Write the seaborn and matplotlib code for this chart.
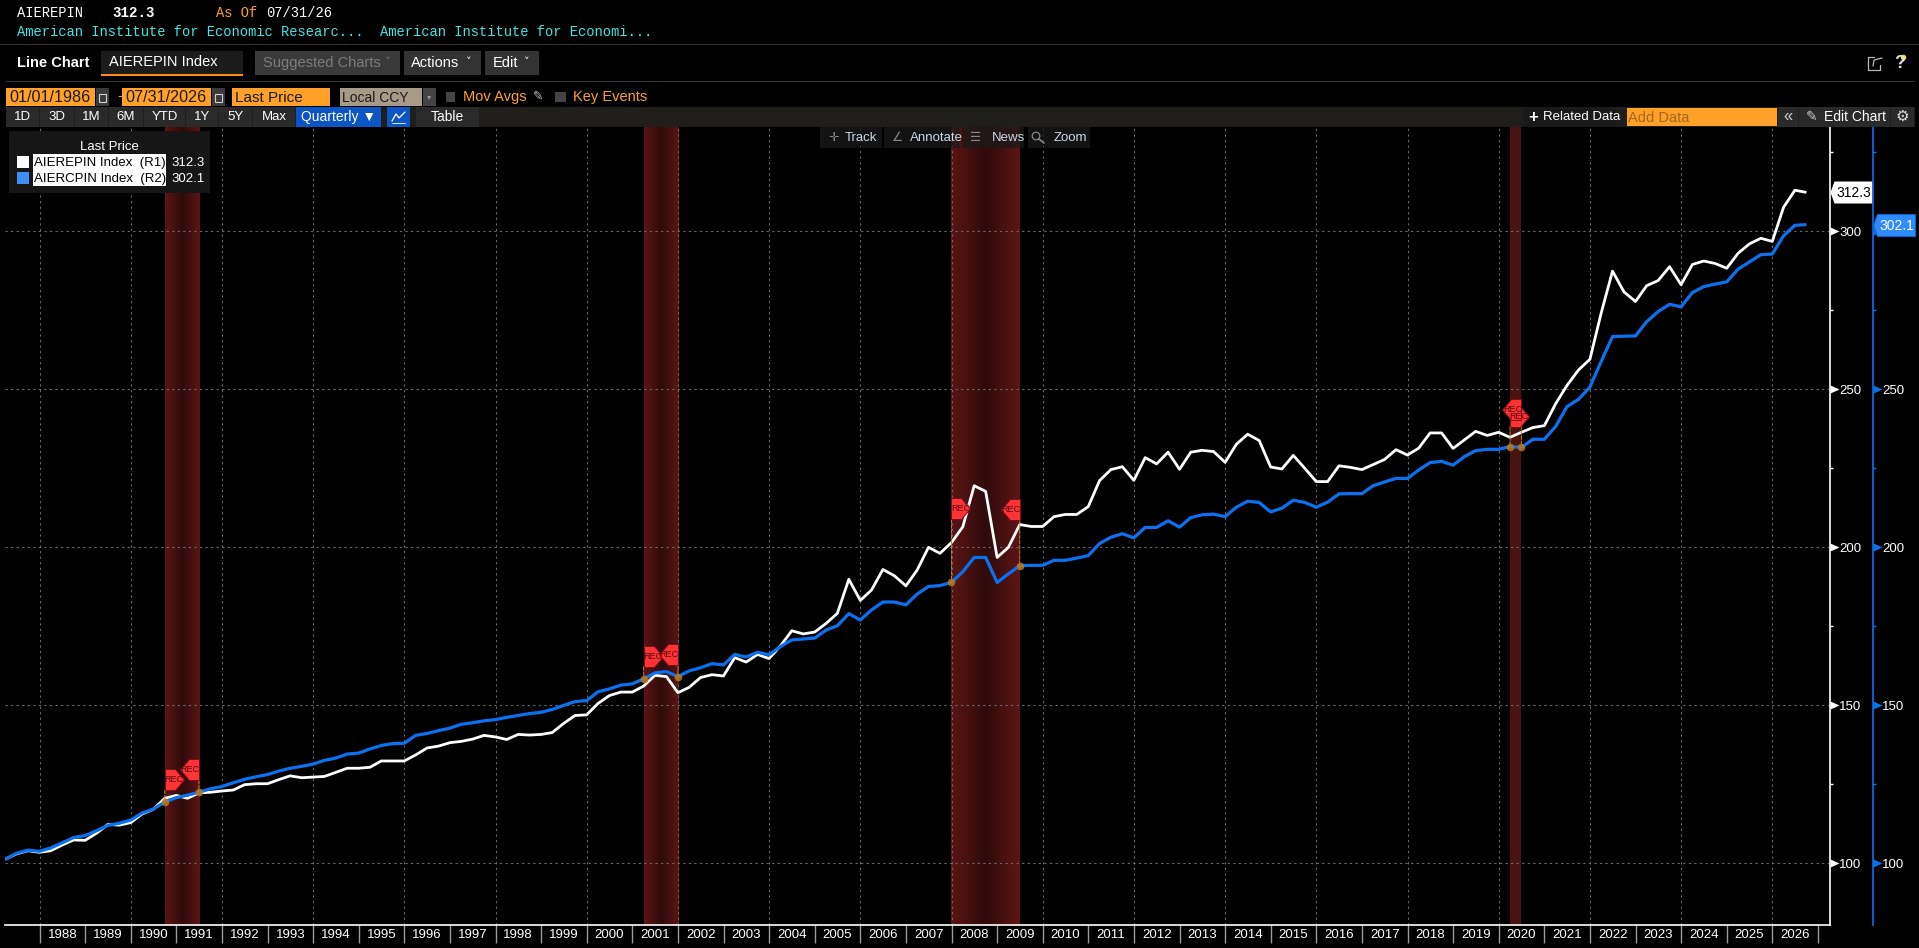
import numpy as np
import pandas as pd
import matplotlib
matplotlib.use('Agg')
import matplotlib.pyplot as plt
import matplotlib.dates as mdates
import seaborn as sns
from matplotlib.colors import LinearSegmentedColormap
from matplotlib.patches import Rectangle, Circle
from matplotlib.path import Path
from matplotlib.ticker import MultipleLocator
from matplotlib.transforms import ScaledTranslation

# quarterly readings, Mar 1987 to Sep 2026
aierepin = [
    101.3, 103.0, 104.0, 103.5, 104.0, 105.8, 107.4, 107.3, 109.5, 112.3,
    112.1, 112.9, 115.6, 117.1, 120.6, 121.5, 120.6, 122.3, 122.5, 122.9,
    123.2, 124.9, 125.2, 125.2, 126.5, 127.7, 127.1, 127.3, 127.5, 128.8,
    130.1, 130.1, 130.4, 132.4, 132.4, 132.4, 134.3, 136.5, 137.1, 138.2,
    138.6, 139.3, 140.5, 140.0, 139.2, 140.8, 140.6, 140.8, 141.4, 144.3,
    146.8, 147.0, 150.6, 153.1, 154.2, 154.2, 156.1, 159.5, 159.1, 154.0,
    155.7, 158.8, 159.7, 159.3, 165.1, 163.7, 166.1, 164.8, 168.8, 173.6,
    172.6, 173.2, 175.9, 179.1, 189.9, 183.2, 186.5, 193.0, 191.0, 187.8,
    192.8, 200.0, 198.1, 201.5, 206.5, 219.5, 217.7, 196.8, 200.0, 207.2,
    206.6, 206.6, 209.7, 210.4, 210.4, 212.9, 221.1, 224.6, 225.5, 221.2,
    228.4, 226.4, 230.1, 224.7, 230.1, 230.7, 230.3, 226.9, 232.6, 235.8,
    233.8, 225.4, 224.8, 229.1, 225.0, 220.8, 220.8, 225.8, 225.3, 224.6,
    226.2, 227.8, 230.9, 229.2, 231.4, 236.2, 236.2, 231.3, 234.0, 236.7,
    235.4, 236.4, 234.8, 236.4, 237.9, 238.5, 245.4, 251.2, 256.1, 259.5,
    274.1, 287.4, 280.8, 277.8, 282.8, 284.4, 288.8, 283.1, 289.5, 290.6,
    289.8, 288.3, 293.0, 296.0, 297.8, 296.8, 307.6, 313.0, 312.3,
]
aiercpin = [
    101.3, 103.2, 104.2, 103.8, 104.9, 106.5, 108.2, 108.8, 110.3, 112.0,
    112.7, 113.7, 115.9, 117.2, 119.4, 120.8, 121.6, 122.5, 123.6, 124.3,
    125.5, 126.6, 127.4, 128.1, 129.2, 130.1, 130.7, 131.4, 132.6, 133.3,
    134.6, 134.9, 136.2, 137.3, 137.9, 138.0, 140.5, 141.1, 142.0, 142.8,
    144.0, 144.5, 145.1, 145.5, 146.2, 146.8, 147.4, 147.8, 148.7, 150.0,
    151.2, 151.5, 154.3, 155.2, 156.4, 156.8, 158.4, 160.3, 160.7, 159.1,
    160.9, 161.9, 163.2, 162.8, 166.1, 165.3, 166.8, 166.0, 168.6, 170.7,
    171.0, 171.3, 173.8, 175.2, 179.0, 177.0, 180.2, 182.7, 182.7, 181.8,
    185.2, 187.6, 187.9, 188.9, 192.3, 196.8, 196.8, 188.9, 191.6, 194.2,
    194.3, 194.3, 195.9, 195.9, 196.6, 197.4, 201.2, 203.2, 204.3, 203.0,
    206.3, 206.3, 208.4, 206.4, 209.4, 210.3, 210.5, 209.7, 212.7, 214.6,
    214.2, 211.2, 212.4, 214.9, 214.2, 212.7, 214.3, 216.9, 217.0, 217.0,
    219.5, 220.7, 221.8, 221.8, 224.5, 226.8, 227.2, 226.0, 228.7, 230.6,
    231.0, 231.0, 231.9, 231.6, 234.2, 234.2, 238.2, 244.5, 246.8, 250.7,
    258.8, 266.7, 266.8, 266.9, 271.4, 274.6, 276.9, 276.1, 280.6, 282.5,
    283.3, 284.0, 288.0, 290.3, 292.6, 292.8, 298.6, 301.9, 302.1,
]
quarters = pd.date_range('1987-03-31', periods=len(aierepin), freq='QE')
recessions = [
    ('1990-09-30', '1991-06-30'),
    ('2001-03-31', '2001-12-31'),
    ('2007-12-31', '2009-06-30'),
    ('2020-03-31', '2020-06-30'),
]
year_labels = list(range(1988, 2027))
y_major = [100, 150, 200, 250, 300]

BLUE = '#0a72f0'
ORANGE = '#ffa028'
CYAN = '#3fe6e6'
W, H = 1919, 948
mono = ['Liberation Mono', 'DejaVu Sans Mono']
ui = ['Liberation Sans', 'DejaVu Sans']


def num(d):
    return mdates.date2num(pd.Timestamp(d))


sns.set_theme(style='dark', rc={'axes.facecolor': 'black', 'figure.facecolor': 'black'})
plt.rcParams['font.family'] = ui

fig = plt.figure(figsize=(W / 100, H / 100), dpi=100)
ax = fig.add_axes([5 / W, (H - 925) / H, (1829.5 - 5) / W, (925 - 127) / H])
ax2 = ax.twinx()

sns.lineplot(x=quarters, y=aierepin, ax=ax, color='white', linewidth=2.0, legend=False,
             solid_capstyle='butt')
sns.lineplot(x=quarters, y=aiercpin, ax=ax2, color=BLUE, linewidth=2.3, legend=False,
             solid_capstyle='butt')

xmin, xmax = num('1987-03-30'), num('2027-04-03')
ymin, ymax = 80.5, 333

# recession bars
bar_cmap = LinearSegmentedColormap.from_list('rec', ['#5c1515', '#2f0b0b', '#5c1515'])
for i, (start, end) in enumerate(recessions):
    if i == 3:
        ax.axvspan(num(start), num(end), color='#4a1212', lw=0, zorder=0)
    else:
        ax.imshow(np.linspace(0, 1, 64).reshape(1, -1), cmap=bar_cmap,
                  extent=[num(start), num(end), ymin, ymax],
                  aspect='auto', zorder=0, interpolation='bilinear')

for a in (ax, ax2):
    a.set_xlim(xmin, xmax)
    a.set_ylim(ymin, ymax)
    a.set_xlabel('')
    a.set_ylabel('')
ax2.grid(False)
ax2.patch.set_visible(False)

# axes
ax.xaxis.set_major_locator(mdates.YearLocator(2))
ax.xaxis.set_minor_locator(mdates.YearLocator(1))
ax.xaxis.set_major_formatter(plt.NullFormatter())
ax.tick_params(axis='x', which='both', length=13, width=1, color='#9a9a9a', bottom=True, top=False)
ax.grid(True, axis='x', which='major', color='#6a6a6a', linestyle=(0, (2, 3)), linewidth=0.8)
ax.grid(True, axis='y', which='major', color='#6a6a6a', linestyle=(0, (2, 3)), linewidth=0.8)

arrow = Path([(0, -4), (9, 0), (0, 4), (0, -4)])
r2_shift = ScaledTranslation(43 / 100, 0, fig.dpi_scale_trans)
for a, col, off, trans in ((ax, 'white', 0, ax.get_yaxis_transform()),
                           (ax2, BLUE, 31, ax2.get_yaxis_transform() + r2_shift)):
    a.yaxis.set_major_locator(MultipleLocator(50))
    a.yaxis.set_minor_locator(MultipleLocator(25))
    a.yaxis.tick_right()
    a.tick_params(axis='y', which='major', right=False, left=False, length=0, pad=7, labelsize=9.5,
                  labelcolor='white')
    a.tick_params(axis='y', which='minor', right=True, left=False, length=2.5, width=1, color=col)
    a.plot([1] * len(y_major), y_major, transform=trans, marker=arrow, markersize=13,
           markerfacecolor=col, markeredgewidth=0, linestyle='none', clip_on=False, zorder=5)
    for side in ('left', 'top', 'bottom'):
        a.spines[side].set_visible(False)
    a.spines['right'].set_visible(True)
    a.spines['right'].set_color(col)
    a.spines['right'].set_linewidth(1.2)
    a.spines['right'].set_position(('outward', off))
ax.spines['bottom'].set_visible(True)
ax.spines['bottom'].set_color('white')
ax.spines['bottom'].set_linewidth(1.2)

# year labels sit in the middle of each year
for y in year_labels:
    ax.annotate(str(y), xy=(num(f'{y}-07-01'), 0), xycoords=ax.get_xaxis_transform(),
                xytext=(0, -10), textcoords='offset pixels', ha='center', va='center',
                fontsize=9.5, color='white', annotation_clip=False)

# REC flags: height of each flag above its point in px
flag_r = Path([(0, 0), (10, 0), (19, 10.5), (10, 21), (0, 21), (0, 0)])
flag_l = Path([(0, 0), (-10, 0), (-19, 10.5), (-10, 21), (0, 21), (0, 0)])
flag_lift = [(12, 12), (12, 12), (63, 46), (20, 27)]


def rec_flag(date, value, lift, pointing):
    ax2.annotate('', xy=(date, value), xytext=(0, lift), textcoords='offset pixels',
                 arrowprops=dict(arrowstyle='-', color='#c8801c', lw=0.7, ls='--', shrinkA=0, shrinkB=0),
                 zorder=6)
    base = flag_r if pointing == 'r' else flag_l
    verts = base.vertices + np.array([0, lift])
    m = np.abs(verts).max()
    ax2.plot([date], [value], marker=Path(verts), markersize=2 * m * 0.72,
             markerfacecolor='#ff3236', markeredgecolor='#7a1016', markeredgewidth=0.7,
             linestyle='none', clip_on=False, zorder=7)
    shift = 9 if pointing == 'r' else -9
    ax2.annotate('REC', xy=(date, value), xytext=(shift, lift + 10.5), textcoords='offset pixels',
                 ha='center', va='center', fontsize=6.6, color='#5a0a0e', zorder=8)


for (start, end), (lift_a, lift_b) in zip(recessions, flag_lift):
    v0 = aiercpin[list(quarters).index(pd.Timestamp(start))]
    v1 = aiercpin[list(quarters).index(pd.Timestamp(end))]
    rec_flag(num(start), v0, lift_a, 'r')
    rec_flag(num(end), v1, lift_b, 'l')
    ax2.plot([num(start), num(end)], [v0, v1], marker='o', markersize=5.5, linestyle='none',
             color='#b87a20', alpha=0.85, markeredgewidth=0, zorder=6)

# last value tags
tag = Path([(0, 0), (4, 11), (42, 11), (42, -11), (4, -11), (0, 0)])
ax.plot([1], [aierepin[-1]], transform=ax.get_yaxis_transform(), marker=tag, markersize=60.5,
        markerfacecolor='white', markeredgewidth=0, clip_on=False, zorder=9, linestyle='none')
ax.annotate(f'{aierepin[-1]}', xy=(1, aierepin[-1]), xycoords=ax.get_yaxis_transform(),
            xytext=(24, -1), textcoords='offset pixels', ha='center', va='center',
            fontsize=10, color='black', zorder=10, annotation_clip=False)
ax2.plot([1], [aiercpin[-1]], transform=ax2.get_yaxis_transform() + r2_shift,
         marker=tag, markersize=60.5, markerfacecolor='#2f8bff', markeredgecolor='#1060d0',
         markeredgewidth=0.8, clip_on=False, zorder=9, linestyle='none')
ax2.annotate(f'{aiercpin[-1]}', xy=(1, aiercpin[-1]), xycoords=ax2.get_yaxis_transform(),
             xytext=(67, -1), textcoords='offset pixels', ha='center', va='center',
             fontsize=10, color='white', zorder=10, annotation_clip=False)

# terminal chrome, drawn in pixel coordinates over the chart
ui_ax = fig.add_axes([0, 0, 1, 1], zorder=20)
ui_ax.set_xlim(0, W)
ui_ax.set_ylim(H, 0)
ui_ax.axis('off')
ui_ax.patch.set_visible(False)


def box(x0, y0, x1, y1, color, **kw):
    ui_ax.add_patch(Rectangle((x0, y0), x1 - x0, y1 - y0, facecolor=color, edgecolor='none', **kw))


def label(x, y, s, color='white', size=9.5, ha='left', family=ui, **kw):
    ui_ax.text(x, y, s, color=color, fontsize=size, ha=ha, va='center', family=family, **kw)


# header
label(17, 13, 'AIEREPIN', size=9.9, family=mono)
label(112, 13, f'{aierepin[-1]}', size=10.2, family=mono, fontweight='bold')
label(216, 13, 'As Of', ORANGE, size=9.9, family=mono)
label(266, 13, '07/31/26', size=9.9, family=mono)
label(17, 32, 'American Institute for Economic Researc...', CYAN, size=9.9, family=mono)
label(380, 32, 'American Institute for Economi...', CYAN, size=9.9, family=mono)
box(0, 44, W, 45, '#333333')
box(6, 81, 1915, 82, '#333333')

label(17, 63, 'Line Chart', size=10.5, fontweight='bold')
box(101, 51, 243, 75, '#1c1c1c')
box(101, 74, 243, 75.5, '#ff8c1a')
label(109, 62, 'AIEREPIN Index', size=10.5)
box(255, 51, 400, 75, '#3a3a3a')
label(263, 63, 'Suggested Charts', '#7c7c7c', size=10.5)
label(385, 62, '˅', '#7c7c7c', size=8, family=['DejaVu Sans'])
box(404, 51, 481, 75, '#333333')
label(411, 63, 'Actions', size=10.5)
label(466, 62, '˅', size=8, family=['DejaVu Sans'])
box(485, 51, 539, 75, '#333333')
label(493, 63, 'Edit', size=10.5)
label(524, 62, '˅', size=8, family=['DejaVu Sans'])
# share icon
ui_ax.plot([1874, 1868, 1868, 1880, 1880], [57, 57, 70, 70, 65], color='#bbbbbb', lw=0.9)
ui_ax.plot([1873, 1874, 1882], [66, 60, 58], color='#bbbbbb', lw=0.9)
label(1894, 63, '?', '#dddddd', size=13, fontweight='bold')
ui_ax.plot([1903], [57], 'o', color='#ffd820', markersize=3)

# date row
box(6, 88, 95, 106, ORANGE)
label(9, 97.5, '01/01/1986', '#1a1a1a', size=11.6)
box(96, 88, 109, 106, '#3a3a3a')
label(117, 96, '-', ORANGE, size=10.5)
box(122, 88, 211, 106, ORANGE)
label(125, 97.5, '07/31/2026', '#1a1a1a', size=11.6)
box(212, 88, 225, 106, '#3a3a3a')
for cx in (102.5, 218.5):
    ui_ax.add_patch(Rectangle((cx - 3.5, 93.5), 7, 8, facecolor='none', edgecolor='#cfcfcf', lw=0.8))
box(232, 88, 330, 106, ORANGE)
label(235, 97.5, 'Last Price', '#1a1a1a', size=11)
box(340, 88, 422, 106, '#a89a88')
label(342, 97.5, 'Local CCY', '#1a1a1a', size=10)
box(423, 88, 436, 106, '#444444')
label(429.5, 97, '▾', '#999999', size=6, ha='center', family=['DejaVu Sans'])
box(446, 92, 455, 102, '#444444')
label(463, 97, 'Mov Avgs', ORANGE, size=10.5)
label(533, 96, '✎', '#bbbbbb', size=9, family=['DejaVu Sans'])
box(555, 92, 566, 102, '#444444')
label(573, 97, 'Key Events', ORANGE, size=10.5)

# range buttons
box(6, 107, W - 4, 127, '#1f1e1a')
buttons = [(6, 39, '1D'), (40, 74, '3D'), (75, 108, '1M'), (109, 143, '6M'), (144, 185, 'YTD'),
           (186, 218, '1Y'), (219, 252, '5Y'), (253, 295, 'Max')]
for x0, x1, s in buttons:
    box(x0, 107, x1, 127, '#2a2a2a')
    label((x0 + x1) / 2, 117, s, size=9.5, ha='center')
box(296, 107, 381, 127, '#0b55c4')
label(301, 117, 'Quarterly ▼', size=10)
box(387, 107, 410, 127, '#0b55c4')
ui_ax.plot([392, 396, 399, 405], [121, 114, 118, 112], color='white', lw=0.9)
ui_ax.plot([392, 405], [123, 123], color='white', lw=0.6)
box(416, 107, 479, 127, '#2a2a2a')
label(447, 117, 'Table', size=10, ha='center')
box(1523, 107, 1616, 127, '#1a1a1a')
label(1528, 117, '+', size=12, fontweight='bold')
label(1543, 117, 'Related Data', size=9.5)
box(1616, 107, 1627, 127, '#1f1e1a')
box(1627, 108, 1777, 126, ORANGE)
label(1628, 117.5, 'Add Data', '#a06a20', size=10.5)
box(1778, 107, 1798, 127, '#2a2a2a')
label(1788, 116, '«', '#cccccc', size=12, ha='center')
box(1799, 107, 1890, 127, '#2a2a2a')
label(1806, 117, '✎', '#cccccc', size=10, family=['DejaVu Sans'])
label(1824, 117, 'Edit Chart', size=10)
box(1891, 107, 1914, 127, '#2a2a2a')
label(1902.5, 116.5, '⚙', '#dddddd', size=11, ha='center', family=['DejaVu Sans'])

# chart tools
tools = [(820, 882, 'Track', '✛', 845), (884, 960, 'Annotate', '∠', 910),
         (962, 1024, 'News', '☰', 992), (1028, 1090, 'Zoom', '', 1054)]
for x0, x1, s, icon, tx in tools:
    box(x0, 127, x1, 148, '#1a1a1a', alpha=0.75)
    if icon:
        label(x0 + 8, 137.5, icon, '#888888', size=9, family=['DejaVu Sans'])
    label(tx, 137.5, s, '#c8d8e8', size=9.5)
# magnifier icon
ui_ax.add_patch(Circle((1036, 136), 3.8, facecolor='none', edgecolor='#888888', lw=0.9))
ui_ax.plot([1039, 1044], [139, 143], color='#888888', lw=1.2)

# legend
box(9, 131, 210, 193, '#161616')
label(109, 147, 'Last Price', size=9.5, ha='center')
box(17, 156, 29, 168, 'white')
box(17, 172, 29, 184, '#3d8ff5')
box(33, 154, 166, 186, 'white')
label(34, 163, 'AIEREPIN Index  (R1)', 'black', size=9.5)
label(34, 179, 'AIERCPIN Index  (R2)', 'black', size=9.5)
label(171, 163, f'{aierepin[-1]}', size=9.5)
label(171, 179, f'{aiercpin[-1]}', size=9.5)

fig.savefig('out.png', dpi=100, facecolor='black')
plt.close(fig)
